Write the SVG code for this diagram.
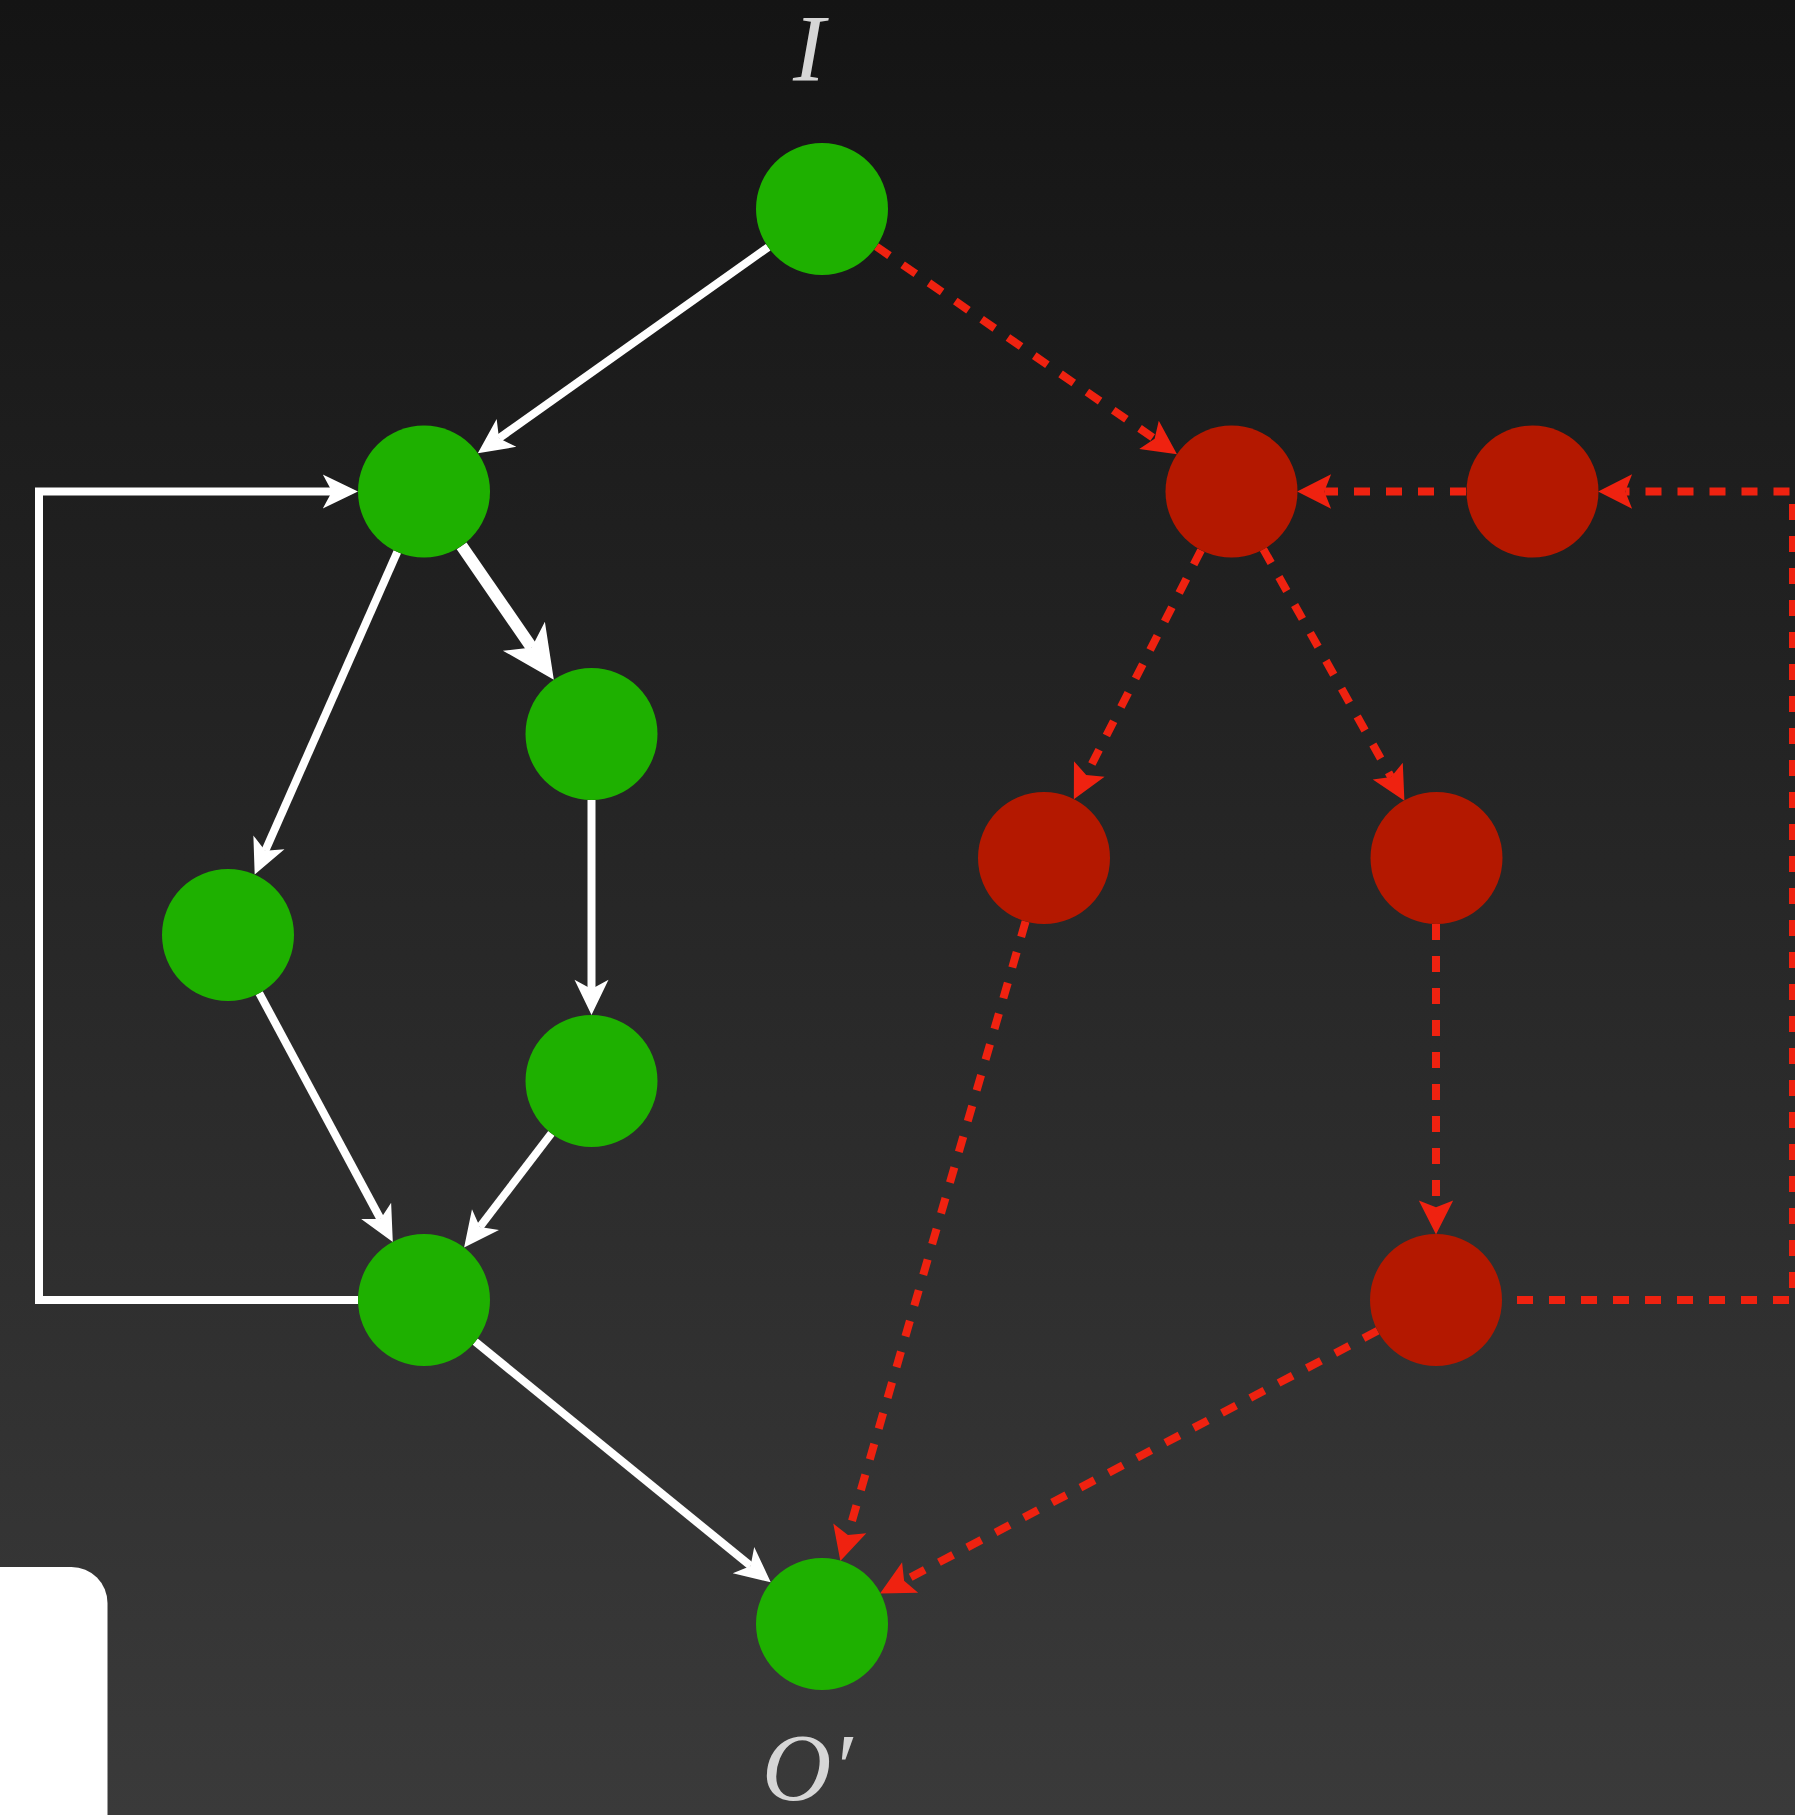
<svg xmlns="http://www.w3.org/2000/svg" width="1795" height="1815" viewBox="0 0 1795 1815">
<defs>
<linearGradient id="bg" x1="0" y1="0" x2="0" y2="1">
<stop offset="0" stop-color="#141414"/>
<stop offset="1" stop-color="#3a3a3a"/>
</linearGradient>
<marker id="aw" markerUnits="strokeWidth" markerWidth="10" markerHeight="10" refX="1.15" refY="0" orient="auto" overflow="visible">
<path d="M0,-2.125 L1.15,0 L0,2.125 L4.4,0 Z" fill="#ffffff"/>
</marker>
<marker id="ar" markerUnits="strokeWidth" markerWidth="10" markerHeight="10" refX="0.85" refY="0" orient="auto" overflow="visible">
<path d="M0,-2.15 L0.85,0 L0,2.15 L4.25,0 Z" fill="#ef2210"/>
</marker>
<style>
.w{fill:none;stroke:#ffffff;stroke-width:8;marker-end:url(#aw)}
.wt{stroke-width:12}
.r{fill:none;stroke:#ef2210;stroke-width:8;stroke-dasharray:16 16;marker-end:url(#ar)}
.g{fill:#1eb000}
.rd{fill:#b41800}
.lbl{font-family:"Liberation Serif","DejaVu Serif",serif;font-style:italic;font-size:96px;fill:#d6d6d6}
</style>
</defs>
<rect x="0" y="0" width="1795" height="1815" fill="url(#bg)"/>
<rect x="-60" y="1567" width="167.5" height="320" rx="36" ry="36" fill="#ffffff"/>
<g id="connectors">
<path class="w" d="M768.2,247.2 L499,438.3"/>
<path class="w wt" d="M461.6,545.8 L531.7,647.6"/>
<path class="w" d="M397.3,551.9 L265.2,850.8"/>
<path class="w" d="M591.5,800 L591.5,989"/>
<path class="w" d="M259.2,993.1 L380.5,1219"/>
<path class="w" d="M551.4,1133.4 L479.9,1226.9"/>
<path class="w" d="M475.2,1341.7 L750.6,1565.9"/>
<path class="w" d="M358,1300 L39,1300 L39,491.5 L332,491.5"/>
<path class="r" d="M876.3,246.5 L1154.6,438.8"/>
<path class="r" d="M1466,491.5 L1324.3,491.5"/>
<path class="r" d="M1201,550.3 L1086.2,775.1"/>
<path class="r" d="M1263.3,549.1 L1391.1,777"/>
<path class="r" d="M1025.6,921.4 L847.9,1534.9"/>
<path class="r" d="M1436,924 L1436,1207.2"/>
<path class="r" d="M1377.6,1330.8 L904.1,1580.7"/>
<path class="r" d="M1517,1300 L1793,1300 L1793,491.5 L1625.3,491.5"/>
</g>
<g id="node-I"><circle class="g" cx="822" cy="209" r="66"/><text class="lbl" x="809" y="81" text-anchor="middle">I</text></g>
<g id="node-A"><circle class="g" cx="424" cy="491.5" r="66"/></g>
<g id="node-B"><circle class="g" cx="591.5" cy="734" r="66"/></g>
<g id="node-C"><circle class="g" cx="228" cy="935" r="66"/></g>
<g id="node-D"><circle class="g" cx="591.5" cy="1081" r="66"/></g>
<g id="node-E"><circle class="g" cx="424" cy="1300" r="66"/></g>
<g id="node-O"><circle class="g" cx="822" cy="1624" r="66"/><text class="lbl" x="762" y="1800">O<tspan>′</tspan></text></g>
<g id="node-R1"><circle class="rd" cx="1231.5" cy="491.5" r="66"/></g>
<g id="node-R2"><circle class="rd" cx="1532.5" cy="491.5" r="66"/></g>
<g id="node-R3"><circle class="rd" cx="1044" cy="858" r="66"/></g>
<g id="node-R4"><circle class="rd" cx="1436.5" cy="858" r="66"/></g>
<g id="node-R5"><circle class="rd" cx="1436" cy="1300" r="66"/></g>
</svg>
